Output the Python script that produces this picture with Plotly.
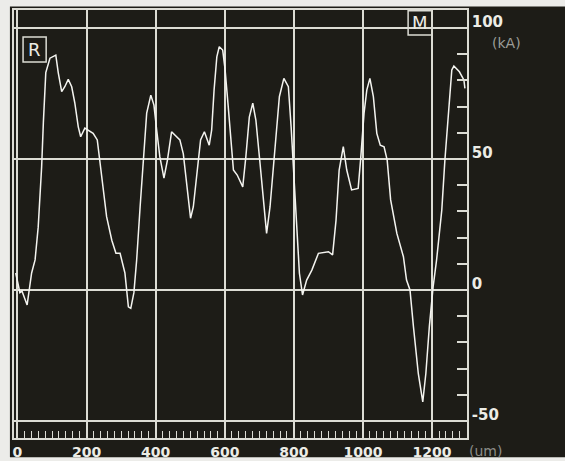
import plotly.graph_objects as go

# profile position (um) and reading (kA)
position_um = [-5, 7, 13, 28, 41, 51, 60, 70, 75, 82, 94, 111, 118, 128, 137, 147, 157, 166, 176, 183,
               195, 219, 231, 239, 258, 273, 285, 297, 311, 321, 328, 337, 345, 355, 364, 374, 386, 395,
               403, 412, 424, 434, 446, 456, 470, 480, 490, 501, 509, 519, 530, 541, 555, 562, 569, 577,
               584, 594, 601, 610, 617, 625, 636, 652, 661, 671, 681, 690, 702, 711, 721, 731, 745, 758,
               771, 784, 792, 800, 808, 816, 825, 837, 852, 871, 900, 912, 922, 931, 943, 953, 967, 986,
               993, 1003, 1011, 1020, 1030, 1040, 1050, 1061, 1070, 1080, 1098, 1117, 1126, 1136, 1146,
               1160, 1173, 1182, 1192, 1203, 1213, 1228, 1237, 1247, 1257, 1263, 1279, 1292, 1295]
reading_kA = [6.5, -1, -0.4, -5.7, 6.5, 11.5, 24, 47, 64, 83, 88.5, 89.7, 83, 75.7, 77.6, 80.4, 77.6,
              71.4, 62.3, 58.5, 61.8, 59.8, 57.3, 48.4, 28, 19, 14, 14, 6.5, -6.4, -7, -1, 11.5, 31.8,
              49.6, 67.5, 74.4, 70.6, 61, 50.9, 42.7, 49.6, 60.4, 59, 57.3, 52, 39.4, 27.4, 31.8, 44.5,
              57.3, 60.4, 55.3, 61, 76.3, 89, 92.9, 91.6, 84, 70, 58.5, 45.8, 43.9, 39.4, 50.9, 66,
              71.3, 64.9, 48.4, 34.4, 21.6, 31.8, 53.4, 73.8, 80.8, 77.6, 62.3, 42, 21.6, 6.4, -1.9,
              3.8, 7.6, 14, 14.6, 13.4, 26.7, 45.8, 54.7, 45.8, 38.2, 38.8, 49.6, 67.4, 76.3, 80.8,
              73.8, 59.8, 55.3, 54.7, 49.6, 34.4, 21.6, 12.7, 3.8, 0, -14, -31.8, -42.7, -31.8, -14,
              1.3, 11.5, 30.5, 49.6, 68.7, 84, 85.5, 83.3, 80.2, 77]

x_tick_vals = [0, 200, 400, 600, 800, 1000, 1200]
x_tick_text = ["0", "200", "400", "600", "800", "1000", "1200"]
y_tick_vals = [-50, 0, 50, 100]
y_tick_text = ["-50", "0", "50", "100"]

DARK = "#1d1c17"
GRID = "#dcdcd4"
TXT = "#ecece6"
FONT = "DejaVu Sans"

fig = go.Figure()
fig.add_trace(go.Scatter(x=position_um, y=reading_kA, mode="lines",
                         line=dict(color="#f4f4f0", width=1.5), hoverinfo="skip",
                         showlegend=False))

fig.update_layout(
    width=565, height=461,
    margin=dict(l=14, r=98, t=10, b=23, autoexpand=False),
    paper_bgcolor="#ecece9",
    plot_bgcolor=DARK,
    showlegend=False,
    xaxis=dict(range=[-10, 1301], tickvals=x_tick_vals, ticktext=x_tick_text,
               automargin=False,
               showgrid=True, gridcolor=GRID, gridwidth=1.5, zeroline=False,
               showline=True, linecolor=GRID, linewidth=1.5, mirror=True,
               ticks="inside", ticklen=14, tickcolor=GRID, tickwidth=1.5,
               minor=dict(dtick=20, tick0=0, ticks="inside", ticklen=7, tickcolor=GRID,
                          tickwidth=1.2, showgrid=False),
               ticklabelstandoff=0,
               tickfont=dict(family=FONT, size=14, color=TXT, weight="bold"),
               fixedrange=True),
    yaxis=dict(range=[-56.5, 106.9], tickvals=y_tick_vals, ticktext=y_tick_text,
               automargin=False,
               side="right", showgrid=True, gridcolor=GRID, gridwidth=1.5, zeroline=False,
               showline=True, linecolor=GRID, linewidth=1.5, mirror=True,
               ticks="inside", ticklen=10, tickcolor=GRID, tickwidth=1.5,
               minor=dict(dtick=10, tick0=0, ticks="inside", ticklen=10, tickcolor=GRID,
                          tickwidth=1.5, showgrid=False),
               ticklabelposition="outside top",
               ticklabelshift=5,
               tickfont=dict(family=FONT, size=15, color=TXT, weight="bold"),
               fixedrange=True),
    shapes=[
        dict(type="rect", xref="paper", yref="paper", x0=-0.009, x1=1.22, y0=-0.045, y1=1.008,
             fillcolor=DARK, line=dict(width=0), layer="below"),
        dict(type="rect", xref="paper", yref="paper", x0=0.020, x1=0.071, y0=0.8785, y1=0.937,
             line=dict(color=GRID, width=1.5)),
        dict(type="rect", xref="paper", yref="paper", x0=0.870, x1=0.923, y0=0.9416, y1=0.998,
             line=dict(color=GRID, width=1.5)),
    ],
    annotations=[
        dict(text="R", xref="paper", yref="paper", x=0.0455, y=0.908, xanchor="center",
             yanchor="middle", showarrow=False, font=dict(family=FONT, size=18, color=TXT)),
        dict(text="M", xref="paper", yref="paper", x=0.8965, y=0.970, xanchor="center",
             yanchor="middle", showarrow=False, font=dict(family=FONT, size=18, color=TXT)),
        dict(text="(kA)", xref="paper", yref="paper", x=1.05, y=0.923, xanchor="left",
             yanchor="middle", showarrow=False, font=dict(family=FONT, size=14, color="#9c9c98")),
        dict(text="(um)", xref="paper", yref="paper", x=1.0, y=-0.030, xanchor="left",
             yanchor="middle", showarrow=False, font=dict(family=FONT, size=14, color="#8c8c88")),
    ],
)

fig.write_html("out.html")
